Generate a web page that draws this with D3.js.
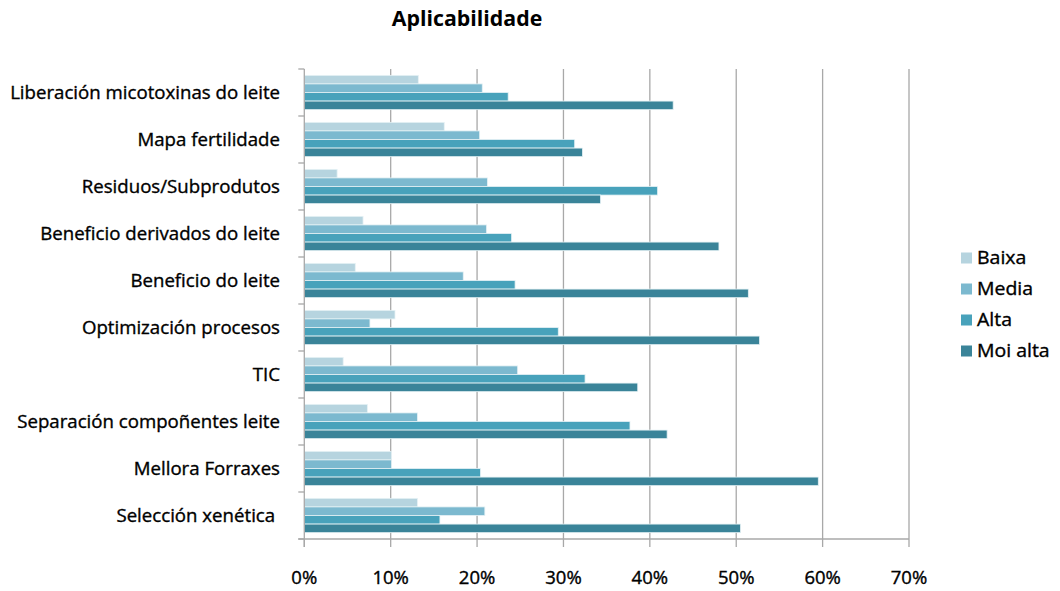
<!DOCTYPE html>
<html><head><meta charset="utf-8">
<script src="https://cdn.jsdelivr.net/npm/d3@7/dist/d3.min.js"></script>
<style>
html,body{margin:0;padding:0;background:#fff;}
svg{display:block;font-family:"Open Sans",Lato,sans-serif;}
svg text{white-space:pre;}
</style></head>
<body>
<svg id="chart" width="1060" height="591"></svg>
<script>
const categories = ["Liberación micotoxinas do leite","Mapa fertilidade","Residuos/Subprodutos","Beneficio derivados do leite","Beneficio do leite","Optimización procesos","TIC","Separación compoñentes leite","Mellora Forraxes","Selección xenética "];
const seriesNames = ["Baixa","Media","Alta","Moi alta"];
const baixa   = [13.2,16.2, 3.8, 6.8, 5.9,10.5, 4.5, 7.3,10.1,13.1];
const media   = [20.6,20.3,21.2,21.1,18.4, 7.6,24.7,13.1,10.1,20.9];
const alta    = [23.6,31.3,40.9,24.0,24.4,29.4,32.5,37.7,20.4,15.7];
const moiAlta = [42.7,32.2,34.3,48.0,51.4,52.7,38.6,42.0,59.5,50.5];
const xTicks = [0,10,20,30,40,50,60,70];
const colors = ["#b6d4df","#7cb9cf","#48a2bb","#3a8499"];
const seriesValues = [baixa, media, alta, moiAlta];

const svg = d3.select("#chart");
const pL = 304.3, pR = 909, pT = 69, pB = 539;

const x = d3.scaleLinear().domain([0,70]).range([pL,pR]);
const y = d3.scaleBand().domain(categories).range([pT,pB]).paddingInner(0.27).paddingOuter(0.135);
const y1 = d3.scaleBand().domain(seriesNames).range([0,y.bandwidth()]);

function fitFactor(str, size, weight, target){
  const t = svg.append("text").style("font-size",size+"px").style("font-weight",weight).text(str);
  const w = t.node().getComputedTextLength();
  t.remove();
  return target / w;
}
const lblSize = 17.5, lblWeight = 400;
const sxCat = fitFactor("Liberación micotoxinas do leite", lblSize, lblWeight, 270);
const sxLeg = fitFactor("Moi alta", lblSize, lblWeight, 72.7);
const sxTick = fitFactor("10%", lblSize, lblWeight, 36.5);
const titleSize = 21;
const sxTitle = fitFactor("Aplicabilidade", titleSize, 700, 150.6);

function heavy(sel){ return sel.attr("stroke","#000").attr("stroke-width",0.35); }

// title
svg.append("text").attr("transform",`translate(467,26) scale(${sxTitle},1)`).attr("text-anchor","middle")
  .style("font-size",titleSize+"px").style("font-weight",700).attr("fill","#000").text("Aplicabilidade");

// gridlines
svg.append("g").selectAll("line").data(xTicks.filter(d=>d>0)).join("line")
  .attr("x1",d=>x(d)).attr("x2",d=>x(d)).attr("y1",pT).attr("y2",pB)
  .attr("stroke","#a8a8a8").attr("stroke-width",1.3);

// bars
const g = svg.append("g");
categories.forEach((c,i)=>{
  seriesNames.forEach((s,j)=>{
    g.append("rect")
      .attr("x",x(0)).attr("y",y(c)+y1(s))
      .attr("width",x(seriesValues[j][i])-x(0)).attr("height",y1.bandwidth())
      .attr("fill",colors[j]).attr("stroke","#e6f2f5").attr("stroke-width",0.8);
  });
});

// y axis
const yAxis = svg.append("g");
yAxis.append("line").attr("x1",pL).attr("x2",pL).attr("y1",pT).attr("y2",pB+8).attr("stroke","#a8a8a8").attr("stroke-width",1.3);
const yTickPos = categories.map(c=>y(c)-y.step()*y.paddingInner()/2).concat([pB]);
yAxis.selectAll("line.t").data(yTickPos).join("line").attr("class","t")
  .attr("x1",pL-6).attr("x2",pL).attr("y1",d=>d).attr("y2",d=>d)
  .attr("stroke","#a8a8a8").attr("stroke-width",1.3);
heavy(yAxis.selectAll("text").data(categories).join("text")
  .attr("transform",d=>`translate(280,${y(d)+y.bandwidth()/2}) scale(${sxCat},1)`).attr("dy","0.35em")
  .attr("text-anchor","end").style("font-size",lblSize+"px").style("font-weight",lblWeight).attr("fill","#000").text(d=>d));

// x axis
const xAxis = svg.append("g");
xAxis.append("line").attr("x1",pL-6).attr("x2",pR).attr("y1",pB).attr("y2",pB).attr("stroke","#a8a8a8").attr("stroke-width",1.3);
xAxis.selectAll("line.t").data(xTicks).join("line").attr("class","t")
  .attr("x1",d=>x(d)).attr("x2",d=>x(d)).attr("y1",pB).attr("y2",pB+8)
  .attr("stroke","#a8a8a8").attr("stroke-width",1.3);
heavy(xAxis.selectAll("text").data(xTicks).join("text")
  .attr("transform",d=>`translate(${x(d)},583.5) scale(${sxTick},1)`).attr("text-anchor","middle")
  .style("font-size",lblSize+"px").style("font-weight",lblWeight).attr("fill","#000").text(d=>d+"%"));

// legend
const lg = svg.append("g");
seriesNames.forEach((s,j)=>{
  const cy = 258 + j*31;
  lg.append("rect").attr("x",961).attr("y",cy-5.5).attr("width",11).attr("height",11).attr("fill",colors[j]);
  heavy(lg.append("text").attr("transform",`translate(977,${cy}) scale(${sxLeg},1)`).attr("dy","0.35em")
    .style("font-size",lblSize+"px").style("font-weight",lblWeight).attr("fill","#000").text(s));
});
</script>
</body></html>
